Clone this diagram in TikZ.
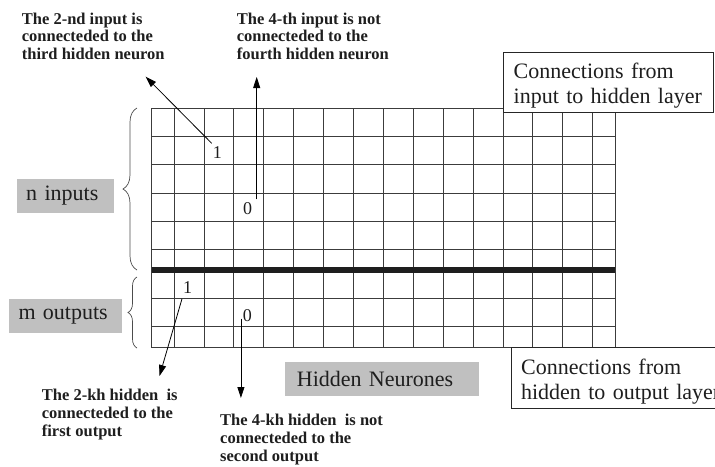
\documentclass[tikz,border=0pt]{standalone}
\usepackage{fontspec}
\setmainfont{Liberation Serif}
\usetikzlibrary{arrows.meta,decorations.pathreplacing}
\definecolor{boxgray}{RGB}{192,192,192}
\definecolor{gridc}{RGB}{60,60,60}
\definecolor{textc}{RGB}{30,30,30}
\begin{document}
\begin{tikzpicture}[x=1pt,y=-1pt,
  gridline/.style={draw=gridc, line width=0.9pt},
  thickline/.style={draw=textc, line width=5.3pt},
  graybox/.style={fill=boxgray, text=textc, anchor=north west, align=left,
    inner ysep=0pt, font=\fontsize{22}{25}\selectfont},
  framebox/.style={draw=black!85, line width=0.8pt, fill=white, text=textc,
    anchor=north west, align=left, inner xsep=10pt, inner ysep=0pt,
    font=\fontsize{22}{25}\selectfont},
  note/.style={anchor=north west, align=left, inner sep=0pt,
    font=\fontsize{16.5}{17.7}\selectfont\bfseries, text=textc},
  digit/.style={inner sep=0pt, font=\fontsize{18}{18}\selectfont, text=textc},
  arr/.style={draw=black, line width=0.8pt, -{Triangle[length=11pt,width=7pt]}},
  brc/.style={draw=black!70, line width=0.7pt, decorate}]
\useasboundingbox (0,0) rectangle (715,466);

% grid
\foreach \x in {151.7,174.3,204,233.9,263.8,293.7,323.6,353.5,383.4,413.3,443.2,473.1,503,532.9,562.8,592.7,615.3}
  \draw[gridline] (\x,108.3) -- (\x,347.7);
\foreach \y in {108.3,136.6,164.9,193.1,221.3,249.5,298.3,326.6,347.7}
  \draw[gridline] (151.7,\y) -- (615.3,\y);
\draw[thickline] (151.7,270) -- (615.3,270);

% braces
\draw[brc, decoration={brace, amplitude=14pt}] (137,270) -- (137,108);
\draw[brc, decoration={brace, amplitude=9pt}] (137,348) -- (137,277);

% grey labels
\node[graybox, minimum width=97.3pt, minimum height=33.7pt, inner xsep=9.3pt, text width=78.7pt]
  (nin) at (16.7,179) {n inputs};
\node[graybox, minimum width=112.7pt, minimum height=33.3pt, inner xsep=9.3pt, text width=94pt]
  (mout) at (9,299) {m outputs};
\node[graybox, minimum width=193.3pt, minimum height=34pt, inner xsep=11.7pt, text width=170pt]
  (hid) at (285,361.7) {Hidden Neurones};

% framed boxes
\node[framebox, text width=189.4pt, minimum height=60pt] (cin) at (503.3,51.7)
  {\rule{0pt}{23pt}Connections from\\input to hidden layer};
\node[framebox, text width=200pt, minimum height=61pt] (cout) at (510.7,347.3)
  {\rule{0pt}{23pt}Connections from\\hidden to output layer};

% digits
\node[digit] (d1) at (217.3,152.7) {1};
\node[digit] (d2) at (247.7,209) {0};
\node[digit] (d3) at (187.7,287.7) {1};
\node[digit] (d4) at (247.3,315.7) {0};

% notes
\node[note] (t1) at (21.7,12.6) {The 2-nd input is\\connecteded to the\\third hidden neuron};
\node[note] (t2) at (236.7,12.6) {The 4-th input is not\\connecteded to the\\fourth hidden neuron};
\node[note] (t3) at (41.7,389.3) {The 2-kh hidden\ \ is\\connecteded to the\\first output};
\node[note] (t4) at (220,414.2) {The 4-kh hidden\ \ is not\\connecteded to the\\second output};

% arrows
\coordinate (a1s) at (211.7,143.3);
\coordinate (a1e) at (145.7,76.7);
\coordinate (a2s) at (256.7,199.3);
\coordinate (a2e) at (256.7,77);
\coordinate (a3s) at (182,298.8);
\coordinate (a3e) at (159.5,376);
\coordinate (a4s) at (240.9,318.5);
\coordinate (a4e) at (240.9,398);
\draw[arr] (a1s) -- (a1e);
\draw[arr] (a2s) -- (a2e);
\draw[arr] (a3s) -- (a3e);
\draw[arr] (a4s) -- (a4e);
\end{tikzpicture}
\end{document}
